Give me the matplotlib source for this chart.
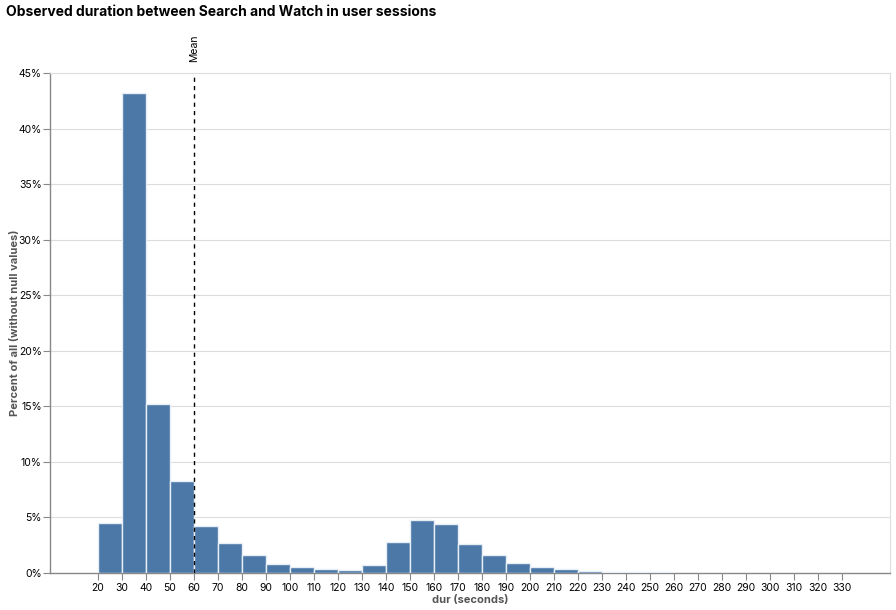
import matplotlib
matplotlib.use("Agg")
import matplotlib.pyplot as plt
from matplotlib.ticker import FuncFormatter

# Histogram bins (seconds) and share of all non-null values (%)
bin_starts = [20, 30, 40, 50, 60, 70, 80, 90, 100, 110, 120, 130, 140, 150, 160,
              170, 180, 190, 200, 210, 220, 230, 240, 250, 260, 270, 280, 290]
percents = [4.5, 43.2, 15.2, 8.3, 4.25, 2.7, 1.65, 0.8, 0.5, 0.35, 0.3, 0.75, 2.75, 4.75, 4.45,
            2.65, 1.6, 0.9, 0.55, 0.35, 0.18, 0.1, 0.08, 0.07, 0.03, 0.01, 0.0, 0.02]
mean_value = 60
x_ticks = list(range(20, 331, 10))
y_ticks = list(range(0, 46, 5))

plt.rcParams['font.family'] = ['Inter', 'DejaVu Sans']

fig = plt.figure(figsize=(8.96, 6.10), dpi=100)
ax = fig.add_axes([50 / 896, 37 / 610, 840 / 896, 500 / 610])

ax.bar(bin_starts, percents, width=10, align='edge', color='#4c78a8',
       edgecolor='#e8eef5', linewidth=1.0, zorder=3)

# mean rule
ax.axvline(mean_value, color='black', linestyle=(0, (3, 3)), linewidth=1, zorder=4)
ax.text(mean_value, 46.0, "Mean", rotation=90, ha='center', va='bottom',
        fontsize=7.5, color='black')

ax.set_xlim(0, 350)
ax.set_ylim(0, 45)
ax.set_xticks(x_ticks)
ax.set_yticks(y_ticks)
ax.yaxis.set_major_formatter(FuncFormatter(lambda v, p: f"{int(v)}%"))
ax.grid(axis='y', color='#dddddd', linewidth=0.8, zorder=0)
ax.set_axisbelow(True)

for side in ['top', 'right']:
    ax.spines[side].set_color('#dddddd')
    ax.spines[side].set_linewidth(0.8)
for side in ['left', 'bottom']:
    ax.spines[side].set_color('#888888')
    ax.spines[side].set_linewidth(1)

ax.tick_params(axis='both', labelsize=7.5, length=5, width=0.8, color='#888888',
               labelcolor='black', pad=2)
ax.tick_params(axis='y', pad=1)

ax.set_xlabel("dur (seconds)", fontsize=8, fontweight='bold', color='#555555', labelpad=2)
ax.set_ylabel("Percent of all (without null values)", fontsize=8, fontweight='bold',
              color='#555555', labelpad=-1)

fig.text(6 / 896, 1 - 12 / 610, "Observed duration between Search and Watch in user sessions",
         fontsize=10, fontweight='bold', ha='left', va='center')

fig.savefig("out.png", dpi=100)
